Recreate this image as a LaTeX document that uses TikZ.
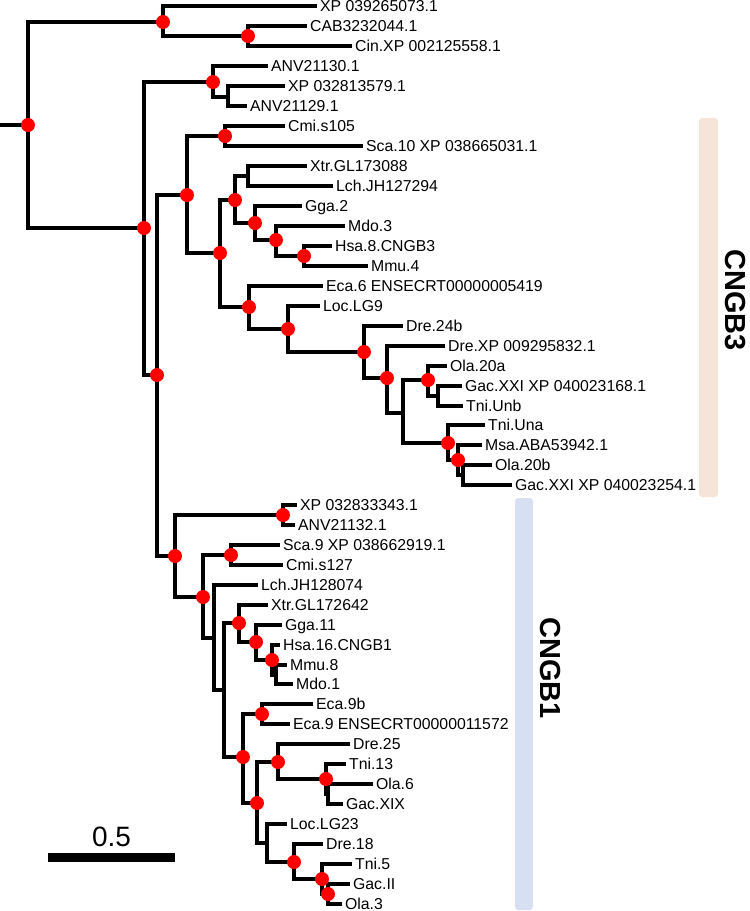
\documentclass[tikz,border=0pt]{standalone}
\usepackage{fontspec}
\setmainfont{Liberation Sans}
\definecolor{cngbthree}{RGB}{246,228,216}
\definecolor{cngbone}{RGB}{214,224,242}

\tikzset{every picture/.style={line width=2.3pt}}
\tikzset{
  branch/.style={line width=2.3pt, line join=miter},
  leaf/.style={anchor=west, inner xsep=1.2pt, inner ysep=0pt, text height=8.5pt, text depth=0pt, font=\fontsize{11.85pt}{14pt}\selectfont},
  bsdot/.style={circle, fill=red, inner sep=0pt, minimum size=10.5pt},
  clade/.style={font=\fontsize{21.75pt}{26pt}\selectfont\bfseries, rotate=-90, inner sep=0pt}
}

\begin{document}
\begin{tikzpicture}[x=0.75pt,y=0.75pt,yscale=-1,xscale=1]
\useasboundingbox (0,0) rectangle (750,911);

%Clade bars
\fill[cngbthree, rounded corners=2.5pt] (699,118) rectangle (718,497);
\fill[cngbone, rounded corners=2.5pt] (515,498) rectangle (533,910);
\node[clade] (lab3) at (735,300) {CNGB3};
\node[clade] (lab1) at (550,668) {CNGB1};

%Internal nodes
\coordinate (stub) at (0,125);
\coordinate (root) at (28,125);
\coordinate (nA) at (163,22);
\coordinate (nA1) at (248,36);
\coordinate (nC) at (144,228);
\coordinate (nB) at (213,82);
\coordinate (nB1) at (228,97);
\coordinate (nD) at (157,375);
% CNGB3 side
\coordinate (g3) at (187,195);
\coordinate (g3a) at (225,136);
\coordinate (g3b) at (220,253);
\coordinate (tet3) at (235,200);
\coordinate (amph3) at (248,176);
\coordinate (amn3) at (255,223);
\coordinate (mam3) at (276,240);
\coordinate (eu3) at (304,256);
\coordinate (fish3) at (249,307);
\coordinate (f3a) at (288,329);
\coordinate (f3b) at (364,352);
\coordinate (f3c) at (387,378);
\coordinate (f3d) at (403,413);
\coordinate (f3e) at (428,380);
\coordinate (f3f) at (438,396);
\coordinate (f3g) at (448,443);
\coordinate (f3h) at (458,460);
\coordinate (f3i) at (463,475);
% CNGB1 side
\coordinate (g1) at (175,556);
\coordinate (g1a) at (283,515);
\coordinate (g1b) at (203,597);
\coordinate (g1c) at (231,555);
\coordinate (g1d) at (214,638);
\coordinate (g1e) at (224,690);
\coordinate (tet1) at (239,623);
\coordinate (amn1) at (256,642);
\coordinate (mam1) at (272,660);
\coordinate (mam1a) at (276,675);
\coordinate (fish1) at (243,757);
\coordinate (eca1) at (262,714);
\coordinate (f1a) at (257,803);
\coordinate (f1b) at (278,762);
\coordinate (f1c) at (326,779);
\coordinate (f1c1) at (328,794);
\coordinate (f1d) at (267,843);
\coordinate (f1e) at (294,862);
\coordinate (f1f) at (322,879);
\coordinate (f1g) at (328,894);

%Leaves
\node[leaf] (l1) at (317,6) {XP 039265073.1};
\node[leaf] (l2) at (307,26) {CAB3232044.1};
\node[leaf] (l3) at (352,46) {Cin.XP 002125558.1};
\node[leaf] (l4) at (268,66) {ANV21130.1};
\node[leaf] (l5) at (285,86) {XP 032813579.1};
\node[leaf] (l6) at (247,106) {ANV21129.1};
\node[leaf] (l7) at (285,126) {Cmi.s105};
\node[leaf] (l8) at (363,146) {Sca.10 XP 038665031.1};
\node[leaf] (l9) at (307,166) {Xtr.GL173088};
\node[leaf] (l10) at (333,186) {Lch.JH127294};
\node[leaf] (l11) at (302,206) {Gga.2};
\node[leaf] (l12) at (345,226) {Mdo.3};
\node[leaf] (l13) at (332,246) {Hsa.8.CNGB3};
\node[leaf] (l14) at (368,266) {Mmu.4};
\node[leaf] (l15) at (323,286) {Eca.6 ENSECRT00000005419};
\node[leaf] (l16) at (320,306) {Loc.LG9};
\node[leaf] (l17) at (403,326) {Dre.24b};
\node[leaf] (l18) at (445,346) {Dre.XP 009295832.1};
\node[leaf] (l19) at (447,366) {Ola.20a};
\node[leaf] (l20) at (462,386) {Gac.XXI XP 040023168.1};
\node[leaf] (l21) at (463,406) {Tni.Unb};
\node[leaf] (l22) at (485,425) {Tni.Una};
\node[leaf] (l23) at (482,445) {Msa.ABA53942.1};
\node[leaf] (l24) at (492,465) {Ola.20b};
\node[leaf] (l25) at (512,485) {Gac.XXI XP 040023254.1};
\node[leaf] (l26) at (297,505) {XP 032833343.1};
\node[leaf] (l27) at (295,525) {ANV21132.1};
\node[leaf] (l28) at (280,545) {Sca.9 XP 038662919.1};
\node[leaf] (l29) at (283,565) {Cmi.s127};
\node[leaf] (l30) at (258,585) {Lch.JH128074};
\node[leaf] (l31) at (268,605) {Xtr.GL172642};
\node[leaf] (l32) at (282,625) {Gga.11};
\node[leaf] (l33) at (280,645) {Hsa.16.CNGB1};
\node[leaf] (l34) at (287,665) {Mmu.8};
\node[leaf] (l35) at (293,684) {Mdo.1};
\node[leaf] (l36) at (313,704) {Eca.9b};
\node[leaf] (l37) at (290,724) {Eca.9 ENSECRT00000011572};
\node[leaf] (l38) at (350,744) {Dre.25};
\node[leaf] (l39) at (346,764) {Tni.13};
\node[leaf] (l40) at (373,784) {Ola.6};
\node[leaf] (l41) at (343,804) {Gac.XIX};
\node[leaf] (l42) at (287,824) {Loc.LG23};
\node[leaf] (l43) at (323,844) {Dre.18};
\node[leaf] (l44) at (352,864) {Tni.5};
\node[leaf] (l45) at (350,884) {Gac.II};
\node[leaf] (l46) at (342,904) {Ola.3};

%Branches
\draw[branch] (stub) -- (root);
\draw[branch] (root) |- (nA);
\draw[branch] (root) |- (nC);
\draw[branch] (nA) |- (l1.west);
\draw[branch] (nA) |- (nA1);
\draw[branch] (nA1) |- (l2.west);
\draw[branch] (nA1) |- (l3.west);
\draw[branch] (nC) |- (nB);
\draw[branch] (nC) |- (nD);
\draw[branch] (nB) |- (l4.west);
\draw[branch] (nB) |- (nB1);
\draw[branch] (nB1) |- (l5.west);
\draw[branch] (nB1) |- (l6.west);
\draw[branch] (nD) |- (g3);
\draw[branch] (nD) |- (g1);
% CNGB3 clade
\draw[branch] (g3) |- (g3a);
\draw[branch] (g3) |- (g3b);
\draw[branch] (g3a) |- (l7.west);
\draw[branch] (g3a) |- (l8.west);
\draw[branch] (g3b) |- (tet3);
\draw[branch] (g3b) |- (fish3);
\draw[branch] (tet3) |- (amph3);
\draw[branch] (tet3) |- (amn3);
\draw[branch] (amph3) |- (l9.west);
\draw[branch] (amph3) |- (l10.west);
\draw[branch] (amn3) |- (l11.west);
\draw[branch] (amn3) |- (mam3);
\draw[branch] (mam3) |- (l12.west);
\draw[branch] (mam3) |- (eu3);
\draw[branch] (eu3) |- (l13.west);
\draw[branch] (eu3) |- (l14.west);
\draw[branch] (fish3) |- (l15.west);
\draw[branch] (fish3) |- (f3a);
\draw[branch] (f3a) |- (l16.west);
\draw[branch] (f3a) |- (f3b);
\draw[branch] (f3b) |- (l17.west);
\draw[branch] (f3b) |- (f3c);
\draw[branch] (f3c) |- (l18.west);
\draw[branch] (f3c) |- (f3d);
\draw[branch] (f3d) |- (f3e);
\draw[branch] (f3d) |- (f3g);
\draw[branch] (f3e) |- (l19.west);
\draw[branch] (f3e) |- (f3f);
\draw[branch] (f3f) |- (l20.west);
\draw[branch] (f3f) |- (l21.west);
\draw[branch] (f3g) |- (l22.west);
\draw[branch] (f3g) |- (f3h);
\draw[branch] (f3h) |- (l23.west);
\draw[branch] (f3h) |- (f3i);
\draw[branch] (f3i) |- (l24.west);
\draw[branch] (f3i) |- (l25.west);
% CNGB1 clade
\draw[branch] (g1) |- (g1a);
\draw[branch] (g1) |- (g1b);
\draw[branch] (g1a) |- (l26.west);
\draw[branch] (g1a) |- (l27.west);
\draw[branch] (g1b) |- (g1c);
\draw[branch] (g1b) |- (g1d);
\draw[branch] (g1c) |- (l28.west);
\draw[branch] (g1c) |- (l29.west);
\draw[branch] (g1d) |- (l30.west);
\draw[branch] (g1d) |- (g1e);
\draw[branch] (g1e) |- (tet1);
\draw[branch] (g1e) |- (fish1);
\draw[branch] (tet1) |- (l31.west);
\draw[branch] (tet1) |- (amn1);
\draw[branch] (amn1) |- (l32.west);
\draw[branch] (amn1) |- (mam1);
\draw[branch] (mam1) |- (l33.west);
\draw[branch] (mam1) |- (mam1a);
\draw[branch] (mam1a) |- (l34.west);
\draw[branch] (mam1a) |- (l35.west);
\draw[branch] (fish1) |- (eca1);
\draw[branch] (fish1) |- (f1a);
\draw[branch] (eca1) |- (l36.west);
\draw[branch] (eca1) |- (l37.west);
\draw[branch] (f1a) |- (f1b);
\draw[branch] (f1a) |- (f1d);
\draw[branch] (f1b) |- (l38.west);
\draw[branch] (f1b) |- (f1c);
\draw[branch] (f1c) |- (l39.west);
\draw[branch] (f1c) |- (f1c1);
\draw[branch] (f1c1) |- (l40.west);
\draw[branch] (f1c1) |- (l41.west);
\draw[branch] (f1d) |- (l42.west);
\draw[branch] (f1d) |- (f1e);
\draw[branch] (f1e) |- (l43.west);
\draw[branch] (f1e) |- (f1f);
\draw[branch] (f1f) |- (l44.west);
\draw[branch] (f1f) |- (f1g);
\draw[branch] (f1g) |- (l45.west);
\draw[branch] (f1g) |- (l46.west);

%Support dots
\foreach \n in {root,nA,nA1,nC,nB,nD,g3,g3a,g3b,tet3,amn3,mam3,eu3,fish3,f3a,f3b,f3c,f3e,f3g,f3h,
  g1,g1a,g1b,g1c,tet1,amn1,mam1,fish1,eca1,f1a,f1b,f1c,f1e,f1f,f1g}
  \node[bsdot] at (\n) {};

%Scale bar
\coordinate (sbl) at (48,857.5);
\coordinate (sbr) at (175,857.5);
\draw[line width=6.75pt] (sbl) -- (sbr);
\node[font=\fontsize{21pt}{25pt}\selectfont, inner sep=0pt] (sblab) at (111.5,837) {0.5};

\end{tikzpicture}
\end{document}
